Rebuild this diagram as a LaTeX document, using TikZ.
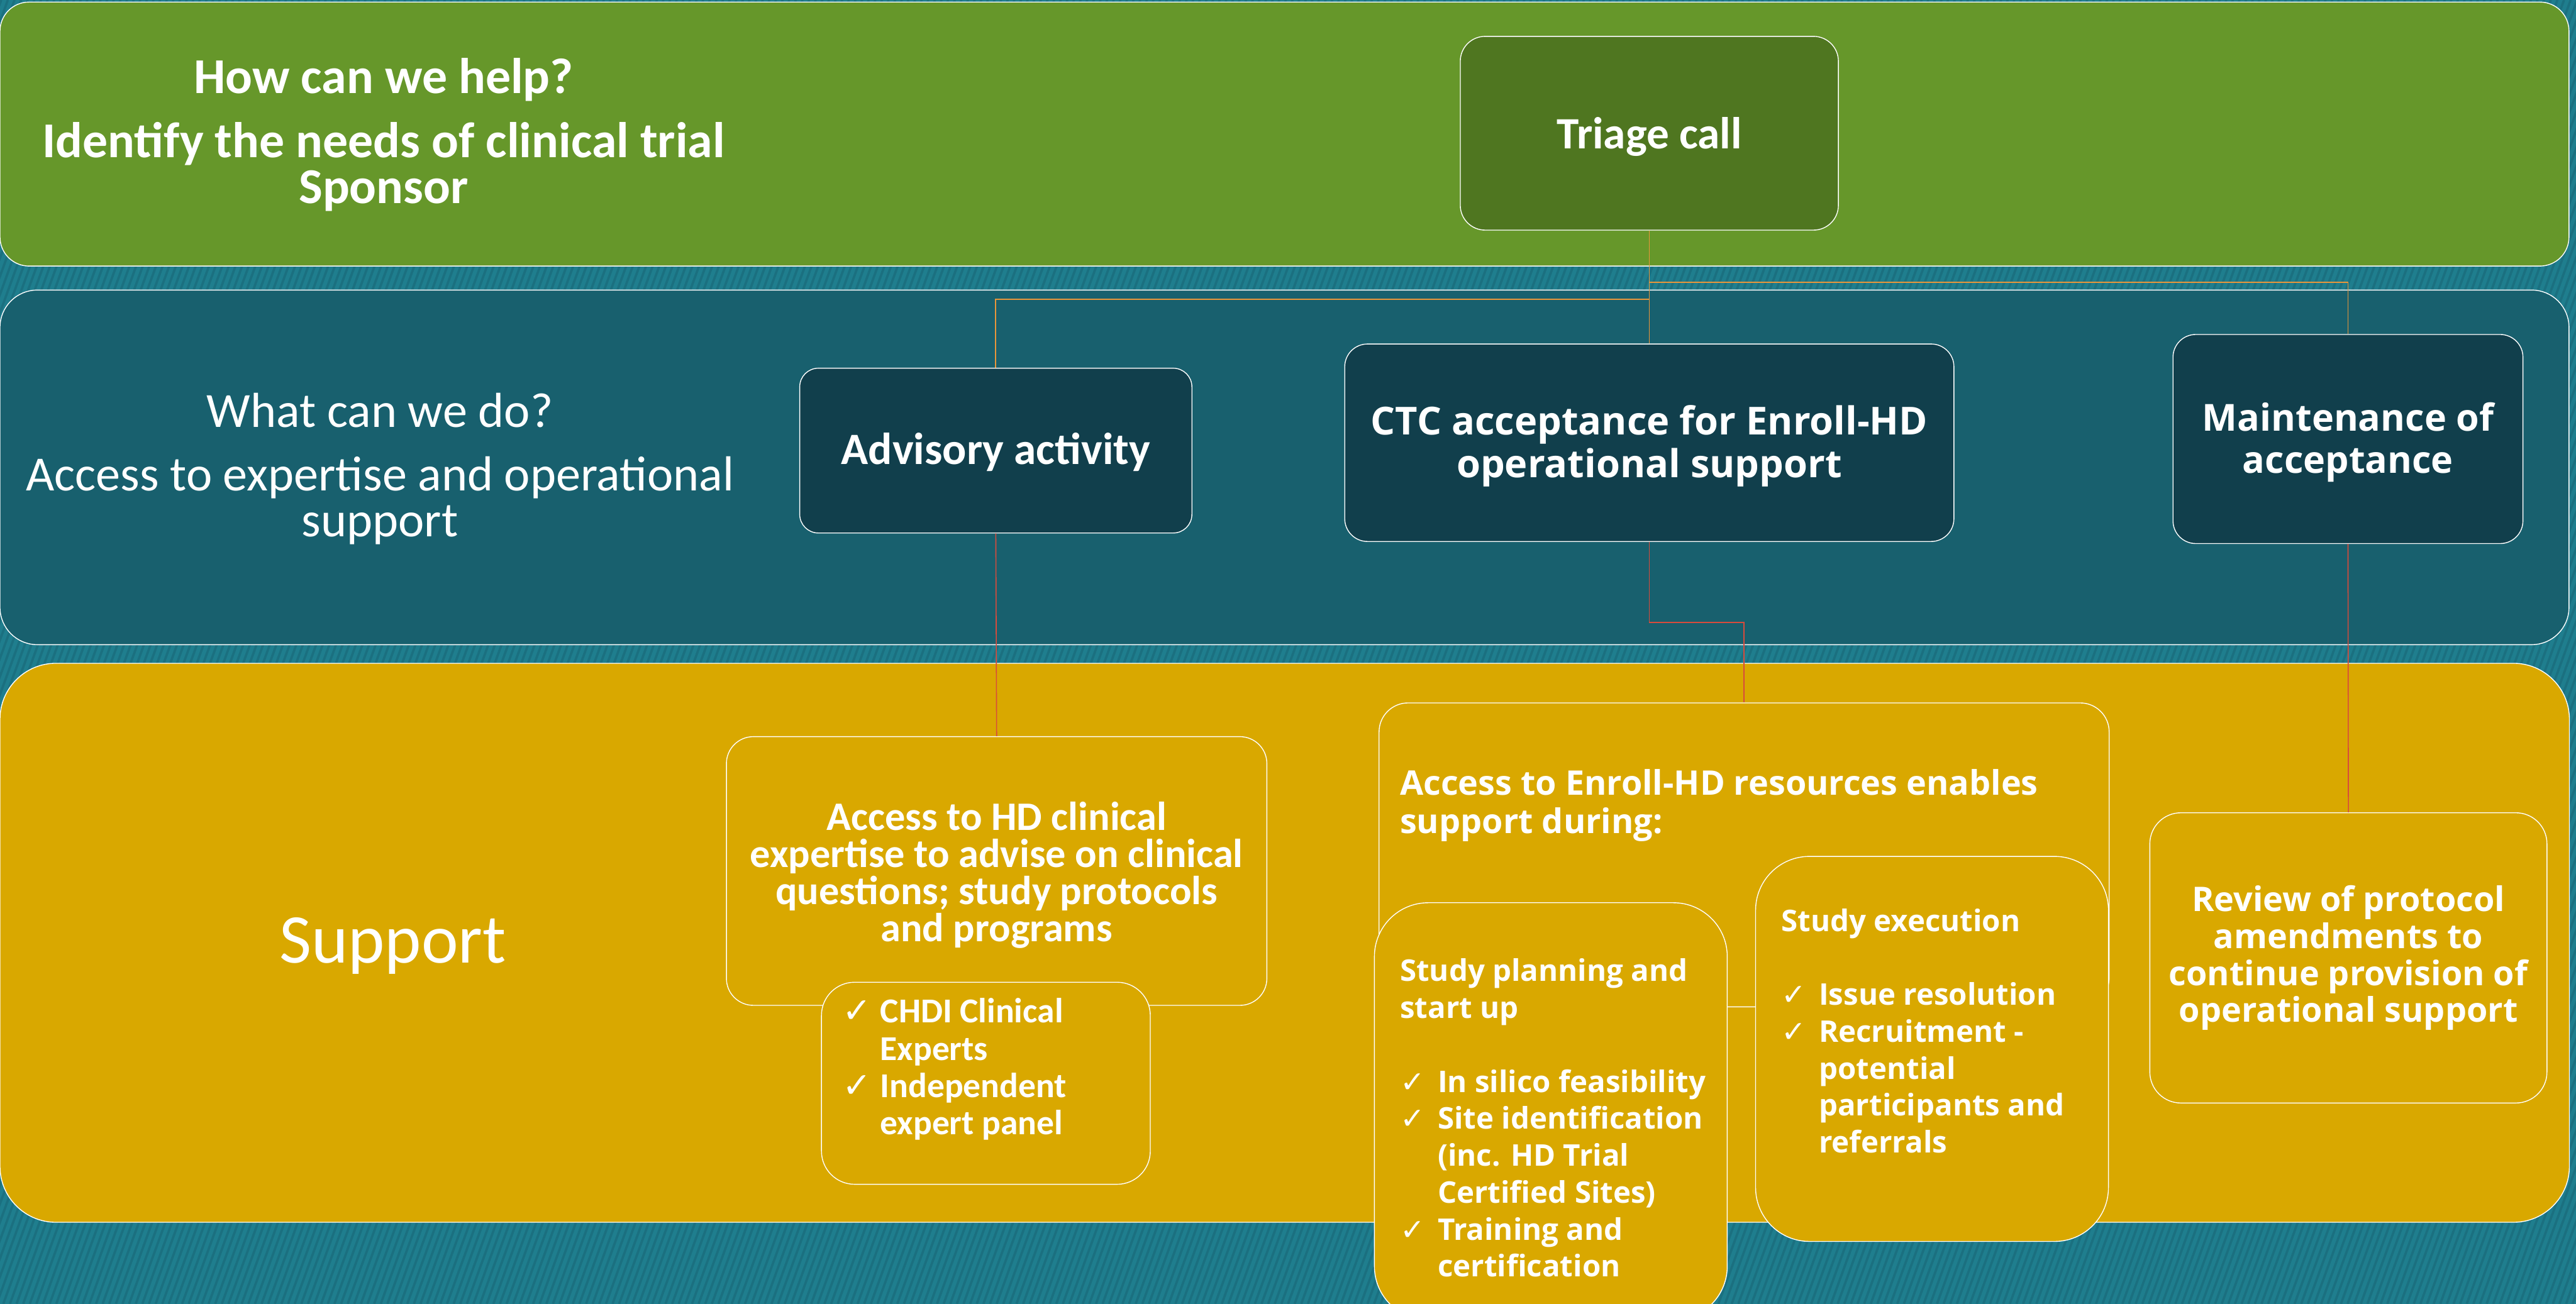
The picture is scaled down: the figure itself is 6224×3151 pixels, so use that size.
\documentclass[tikz,border=0pt]{standalone}
\usepackage{fontspec}
\setmainfont{Carlito}
\newfontfamily\widefont{Open Sans}
\newfontfamily\symfont{DejaVu Sans}
\usetikzlibrary{calc,positioning}

\definecolor{bgteal}{HTML}{1F7E8E}
\definecolor{stripeteal}{HTML}{1B7080}
\definecolor{bandgreen}{HTML}{66972A}
\definecolor{triagegreen}{HTML}{4F7620}
\definecolor{bandteal}{HTML}{18606E}
\definecolor{boxteal}{HTML}{113F4C}
\definecolor{gold}{HTML}{D9A800}
\definecolor{linkorange}{HTML}{E8963A}
\definecolor{linkred}{HTML}{D84B3C}

\newcommand{\listtick}{\makebox[0.91cm][l]{\symfont\mdseries ✓}}
\newcommand{\listgap}{\hspace*{0.91cm}}

\begin{document}
\begin{tikzpicture}[x=0.01cm,y=-0.01cm,
  band/.style={draw=white,line width=0.6pt},
  box/.style={draw=white,line width=0.6pt,text=white,align=center,inner sep=0pt},
  darkbox/.style={box,fill=boxteal,rounded corners=0.55cm},
  goldbox/.style={box,fill=gold,rounded corners=0.7cm},
  sidetext/.style={text=white,align=center,inner sep=0pt},
  listtext/.style={text=white,align=left,inner sep=0pt,anchor=north west},
  link/.style={draw=linkorange,line width=0.8pt},
  sublink/.style={draw=linkred,line width=0.7pt}]
\useasboundingbox (0,0) rectangle (6224,3151);

% striped backdrop
\begin{scope}
\clip (0,0) rectangle (6224,3151);
\fill[bgteal] (0,0) rectangle (6224,3151);
\foreach \s in {-1160,-1144,...,6224}
  \draw[stripeteal,line width=1.6pt] (\s,3151) -- ++(1147,-3151);
\end{scope}

% the three bands
\draw[band,fill=bandgreen,rounded corners=0.7cm] (0,5) rectangle (6207,643);
\draw[band,fill=bandteal,rounded corners=0.9cm] (0,701) rectangle (6207,1558);
\draw[band,fill=gold,rounded corners=1.35cm] (0,1603) rectangle (6208,2954);

\node[sidetext,font=\bfseries\fontsize{34.5}{31.8}\selectfont] (help) at (927,326)
  {How can we help?\\[0.42cm]Identify the needs of clinical trial\\Sponsor};
\node[sidetext,font=\fontsize{33.8}{31.8}\selectfont] (whatdo) at (918,1133)
  {What can we do?\\[0.42cm]Access to expertise and operational\\support};
\node[sidetext,font=\fontsize{48}{50}\selectfont] (support) at (949,2286) {Support};

% top row and second row
\node[darkbox,fill=triagegreen,rounded corners=0.6cm,minimum width=9.13cm,minimum height=4.68cm,
  font=\bfseries\fontsize{30.8}{30}\selectfont] (triage) at (3985,322) {\rule{0pt}{26.5pt}Triage call};
\node[darkbox,rounded corners=0.45cm,minimum width=9.47cm,minimum height=3.98cm,
  font=\bfseries\fontsize{30.8}{30}\selectfont] (advisory) at (2406,1089) {\rule{0pt}{24pt}Advisory activity};
\node[darkbox,minimum width=14.71cm,minimum height=4.77cm,
  font=\widefont\bfseries\fontsize{26.5}{29.3}\selectfont] (ctc) at (3985,1070)
  {\rule{0pt}{24.6pt}CTC acceptance for Enroll-HD\\operational support};
\node[darkbox,minimum width=8.45cm,minimum height=5.05cm,
  font=\widefont\bfseries\fontsize{25.6}{29.3}\selectfont] (maint) at (5673,1061)
  {\rule{0pt}{24pt}Maintenance of\\acceptance};

% support row
\node[goldbox,rounded corners=0.65cm,minimum width=13.05cm,minimum height=6.49cm,
  font=\bfseries\fontsize{27.8}{25.5}\selectfont] (clinical) at (2408,2105)
  {\rule{0pt}{25pt}Access to HD clinical\\expertise to advise on clinical\\questions; study protocols\\and programs};
\node[goldbox,rounded corners=0.8cm,minimum width=7.94cm,minimum height=4.88cm] (experts) at (2382,2618) {};
\node[listtext,font=\bfseries\fontsize{24}{25.6}\selectfont] (expertlist) at (2035,2412)
  {\listtick CHDI Clinical\\\listgap Experts\\\listtick Independent\\\listgap expert panel};

\node[goldbox,minimum width=17.63cm,minimum height=7.34cm] (enroll) at (4214,2066) {};
\node[listtext,font=\widefont\bfseries\fontsize{23.3}{26}\selectfont] (enrolltext) at (3382,1859)
  {Access to Enroll-HD resources enables\\support during:};

\node[goldbox,rounded corners=1.3cm,minimum width=8.52cm,minimum height=10.08cm] (planning) at (3747,2686) {};
\node[listtext,font=\widefont\bfseries\fontsize{20.5}{25.4}\selectfont] (planninglist) at (3382,2316)
  {Study planning and\\start up\\[25.4pt]
   \listtick In silico feasibility\\\listtick Site identification\\\listgap (inc. HD Trial\\
   \listgap Certified Sites)\\\listtick Training and\\\listgap certification};

\node[goldbox,rounded corners=1.3cm,minimum width=8.52cm,minimum height=9.3cm] (execution) at (4668,2535) {};
\node[listtext,font=\widefont\bfseries\fontsize{20.5}{25.4}\selectfont] (executionlist) at (4303,2195)
  {Study execution\\[25.4pt]
   \listtick Issue resolution\\\listtick Recruitment -\\\listgap potential\\
   \listgap participants and\\\listgap referrals};

\node[goldbox,rounded corners=0.75cm,minimum width=9.59cm,minimum height=7.01cm,
  font=\widefont\bfseries\fontsize{23.3}{25.4}\selectfont] (review) at (5674,2315)
  {Review of protocol\\amendments to\\continue provision of\\operational support};

% connectors
\coordinate (upperhub) at (3985,682);
\coordinate (lowerhub) at (3985,723);
\coordinate (ctcjog) at (3985,1504);
\draw[link] (triage.south) -- (upperhub) -| (maint.north);
\draw[link] (triage.south) -- (lowerhub) -| (advisory.north);
\draw[link] (triage.south) -- (ctc.north);
\draw[sublink] (advisory.south) -- (clinical.north);
\draw[sublink] (ctc.south) -- (ctcjog) -| (enroll.north);
\draw[sublink] (maint.south) -- (review.north);
\end{tikzpicture}
\end{document}
